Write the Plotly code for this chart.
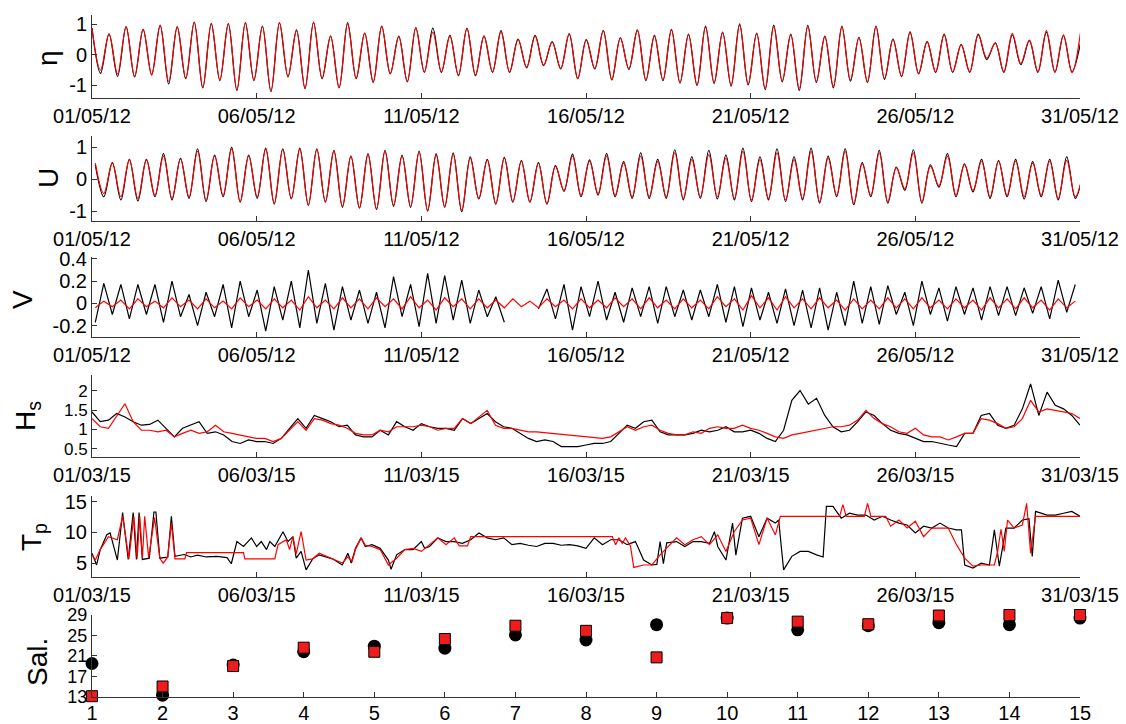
import numpy as np
import pandas as pd
import plotly.graph_objects as go

# ---------------- DATA ----------------
M2_PERIOD_DAYS = 0.5175          # spacing of successive high waters
BASE_2012 = pd.Timestamp("2012-05-01")
BASE_2015 = pd.Timestamp("2015-03-01")

# eta: high-water values (every M2 period from day 0) and low-water values (half period later)
eta_obs_high = [0.88,0.68,0.92,0.84,0.97,0.92,1.08,1.03,1.03,1.05,
                0.95,1.05,0.82,1.08,0.62,1.06,0.72,0.95,0.62,0.90,
                0.88,0.64,0.87,0.62,0.80,0.52,0.64,0.44,0.69,0.50,
                0.80,0.56,0.82,0.64,0.84,0.68,0.95,0.75,1.02,0.72,
                0.98,0.68,0.97,0.62,0.95,0.58,0.95,0.52,0.76,0.44,
                0.68,0.35,0.68,0.40,0.66,0.47,0.75,0.63,0.40]
eta_obs_low = [-0.60,-0.70,-0.72,-0.64,-0.95,-0.78,-1.08,-0.84,-1.16,-0.84,
               -1.20,-0.72,-1.10,-0.78,-1.08,-0.78,-0.90,-0.62,-0.88,-0.57,
               -0.57,-0.68,-0.68,-0.57,-0.57,-0.42,-0.35,-0.46,-0.78,-0.46,
               -0.82,-0.47,-0.84,-0.84,-0.92,-1.00,-0.93,-1.02,-0.98,-1.14,
               -0.88,-1.16,-0.90,-1.08,-0.86,-0.90,-0.80,-0.71,-0.62,-0.57,
               -0.57,-0.57,-0.15,-0.57,-0.32,-0.57,-0.57,-0.55]
eta_mod_high = [0.88,0.69,0.93,0.84,0.98,0.93,1.07,1.04,1.02,1.06,
                0.93,1.06,0.80,1.06,0.62,1.02,0.71,0.93,0.60,0.87,
                0.75,0.62,0.87,0.62,0.76,0.50,0.62,0.42,0.69,0.49,
                0.80,0.55,0.80,0.62,0.82,0.66,0.91,0.73,0.98,0.69,
                0.93,0.66,0.93,0.60,0.91,0.55,0.91,0.51,0.73,0.44,
                0.66,0.33,0.66,0.38,0.71,0.49,0.80,0.66,0.73]
eta_mod_low = [-0.50,-0.62,-0.70,-0.66,-0.87,-0.76,-1.06,-0.82,-1.15,-0.82,
               -1.18,-0.70,-1.09,-0.76,-1.06,-0.76,-0.87,-0.60,-0.87,-0.55,
               -0.55,-0.66,-0.66,-0.55,-0.55,-0.40,-0.33,-0.44,-0.77,-0.44,
               -0.80,-0.45,-0.82,-0.82,-0.90,-0.98,-0.90,-0.98,-0.95,-1.09,
               -0.85,-1.09,-0.87,-1.02,-0.82,-0.87,-0.77,-0.69,-0.60,-0.55,
               -0.55,-0.55,-0.10,-0.55,-0.28,-0.55,-0.55,-0.58]

# U: flood peaks and ebb troughs
u_obs_high = [0.45,0.52,0.62,0.62,0.80,0.65,0.95,0.75,1.00,0.75,
              0.97,0.95,0.97,0.95,0.90,0.72,0.80,0.90,0.75,0.88,
              0.80,0.82,0.70,0.62,0.68,0.58,0.52,0.42,0.78,0.60,
              0.80,0.55,0.82,0.62,0.92,0.70,0.90,0.75,0.97,0.70,
              0.95,0.70,0.97,0.72,0.95,0.52,0.90,0.38,0.92,0.45,
              0.80,0.48,0.62,0.58,0.62,0.55,0.62,0.70,0.30]
u_obs_low = [-0.55,-0.65,-0.68,-0.55,-0.65,-0.60,-0.70,-0.55,-0.72,-0.60,
             -0.78,-0.62,-0.82,-0.72,-0.88,-0.90,-0.95,-0.85,-0.88,-1.00,
             -0.88,-1.02,-0.62,-0.78,-0.72,-0.72,-0.78,-0.38,-0.55,-0.50,
             -0.55,-0.60,-0.60,-0.60,-0.65,-0.60,-0.62,-0.65,-0.70,-0.65,
             -0.70,-0.65,-0.75,-0.55,-0.80,-0.55,-0.75,-0.35,-0.75,-0.25,
             -0.55,-0.40,-0.60,-0.55,-0.62,-0.55,-0.65,-0.60]
u_mod_high = [0.50,0.50,0.60,0.60,0.72,0.63,0.87,0.72,0.95,0.72,
              0.93,0.93,0.93,0.93,0.87,0.72,0.77,0.87,0.72,0.84,
              0.75,0.77,0.66,0.60,0.66,0.56,0.50,0.40,0.72,0.56,
              0.72,0.50,0.72,0.55,0.82,0.61,0.77,0.66,0.87,0.61,
              0.82,0.61,0.87,0.66,0.87,0.48,0.82,0.35,0.82,0.40,
              0.72,0.45,0.56,0.56,0.56,0.50,0.56,0.59,0.30]
u_mod_low = [-0.45,-0.55,-0.60,-0.50,-0.60,-0.55,-0.65,-0.50,-0.70,-0.55,
             -0.75,-0.60,-0.80,-0.70,-0.85,-0.90,-0.92,-0.81,-0.85,-0.97,
             -0.85,-0.97,-0.60,-0.76,-0.70,-0.70,-0.76,-0.35,-0.50,-0.45,
             -0.50,-0.55,-0.55,-0.55,-0.60,-0.55,-0.55,-0.60,-0.65,-0.60,
             -0.65,-0.60,-0.70,-0.50,-0.76,-0.50,-0.70,-0.30,-0.70,-0.20,
             -0.50,-0.35,-0.55,-0.50,-0.55,-0.50,-0.60,-0.55]

# V: troughs (first) and crests (half period later); None = gap in record
v_obs_low = [-0.17,-0.10,-0.14,-0.10,-0.17,-0.12,-0.20,-0.12,-0.22,-0.12,
             -0.25,-0.15,-0.22,-0.18,-0.24,-0.15,-0.18,-0.22,-0.12,-0.21,
             -0.18,-0.15,-0.18,-0.12,-0.17,None,-0.05,-0.14,-0.24,-0.12,
             -0.15,-0.17,-0.12,-0.18,-0.12,-0.15,-0.12,-0.17,-0.21,-0.15,
             -0.18,-0.20,-0.22,-0.24,-0.20,-0.18,-0.19,-0.10,-0.20,-0.10,
             -0.16,-0.10,-0.15,-0.11,-0.11,-0.09,-0.14,-0.08]
v_obs_high = [0.18,0.17,0.17,0.17,0.20,0.08,0.10,0.17,0.20,0.12,
              0.15,0.20,0.30,0.18,0.15,0.12,0.10,0.24,0.17,0.27,
              0.25,0.21,0.12,0.06,None,None,0.13,0.17,0.15,0.20,
              0.10,0.14,0.15,0.15,0.12,0.12,0.17,0.15,0.14,0.10,
              0.13,0.12,0.14,0.10,0.20,0.15,0.16,0.10,0.20,0.14,
              0.15,0.14,0.15,0.15,0.14,0.15,0.21,0.17]
v_mod_low = [-0.04,-0.03,-0.05,-0.03,-0.04,-0.03,-0.05,-0.04,-0.05,-0.03,
             -0.05,-0.04,-0.06,-0.04,-0.05,-0.04,-0.05,-0.03,-0.05,-0.04,
             -0.06,-0.03,-0.05,-0.04,-0.04,-0.03,-0.04,-0.03,-0.05,-0.04,
             -0.04,-0.03,-0.05,-0.04,-0.05,-0.04,-0.05,-0.03,-0.06,-0.04,
             -0.06,-0.04,-0.05,-0.04,-0.06,-0.05,-0.05,-0.04,-0.05,-0.04,
             -0.05,-0.04,-0.06,-0.04,-0.05,-0.04,-0.06,-0.04]
v_mod_high = [0.02,0.03,0.04,0.02,0.05,0.03,0.04,0.02,0.05,0.03,
              0.04,0.03,0.06,0.03,0.05,0.04,0.05,0.04,0.06,0.03,
              0.05,0.04,0.04,0.03,0.04,0.02,0.04,0.03,0.04,0.03,
              0.05,0.04,0.05,0.03,0.04,0.03,0.06,0.04,0.07,0.05,
              0.06,0.04,0.05,0.03,0.04,0.03,0.05,0.04,0.05,0.03,
              0.04,0.03,0.05,0.04,0.05,0.03,0.04,0.02]

# Hs, 6-hourly values, March 2015
hs_step_days = 0.25
hs_obs = [1.45,1.20,1.24,1.41,1.32,1.20,1.11,1.13,1.24,1.03,
          0.81,1.03,1.11,1.20,0.90,0.94,0.86,0.69,0.64,0.73,
          0.69,0.69,0.64,0.77,1.03,1.28,1.03,1.36,1.28,1.20,
          1.07,1.11,0.86,0.81,0.81,0.98,0.86,1.20,1.07,0.98,
          1.15,1.07,1.03,1.03,0.98,1.28,1.15,1.28,1.41,1.20,
          1.07,1.03,0.90,0.77,0.69,0.73,0.69,0.56,0.56,0.56,
          0.60,0.64,0.64,0.69,0.90,1.11,1.03,1.20,1.24,0.94,
          0.86,0.86,0.86,0.90,0.98,0.94,0.98,1.07,0.94,0.94,
          0.98,0.90,0.77,0.69,0.98,1.75,2.00,1.65,1.80,1.36,
          1.07,0.94,0.98,1.20,1.45,1.36,1.15,0.98,0.90,0.86,
          0.77,0.69,0.69,0.64,0.60,0.56,0.90,0.90,1.36,1.41,
          1.11,1.03,1.11,1.53,2.17,1.36,1.96,1.62,1.53,1.36,
          1.11]
hs_mod = [1.28,1.07,1.03,1.36,1.66,1.20,0.98,0.98,0.94,0.98,
          0.81,0.90,0.98,0.90,0.94,1.11,0.94,0.90,0.86,0.81,
          0.77,0.77,0.69,0.77,0.98,1.20,0.98,1.28,1.24,1.15,
          1.11,1.03,0.90,0.86,0.86,0.98,0.94,1.07,1.07,1.07,
          1.11,1.07,0.98,1.03,1.03,1.28,1.15,1.32,1.49,1.11,
          1.03,1.03,0.98,0.94,0.94,0.92,0.90,0.87,0.86,0.84,
          0.81,0.79,0.77,0.81,0.94,1.07,0.98,1.07,1.11,0.98,
          0.90,0.86,0.86,0.94,0.90,1.03,1.07,1.03,1.03,1.11,
          1.03,0.98,0.90,0.81,0.77,0.86,0.90,0.94,0.98,1.03,
          1.07,1.07,1.11,1.24,1.49,1.28,1.15,1.07,0.94,0.90,
          1.03,0.86,0.81,0.81,0.73,0.81,0.90,0.90,1.28,1.24,
          1.15,1.03,1.07,1.28,1.75,1.45,1.53,1.49,1.45,1.41,
          1.28]

# Tp (day offset, value)
tp_obs_day = [0.0,0.14,0.25,0.45,0.55,0.77,0.93,1.1,1.25,1.35,
              1.43,1.53,1.74,1.88,1.94,2.06,2.3,2.41,2.52,2.8,
              3.0,3.2,3.47,3.8,4.1,4.23,4.4,4.6,4.84,5.0,
              5.14,5.3,5.4,5.55,5.8,5.95,6.1,6.2,6.35,6.5,
              6.7,6.9,7.3,7.6,7.77,7.87,8.0,8.17,8.3,8.5,
              8.75,9.0,9.08,9.25,9.5,9.75,10.0,10.1,10.25,10.5,
              10.75,11.0,11.25,11.5,11.75,12.0,12.25,12.5,12.75,13.0,
              13.25,13.5,13.75,14.0,14.25,14.5,14.75,15.0,15.25,15.5,
              15.75,16.0,16.25,16.5,16.75,17.0,17.15,17.25,17.35,17.45,
              17.75,18.0,18.25,18.5,18.75,18.9,19.0,19.25,19.45,19.55,
              19.75,
              20.0,20.25,20.5,20.75,20.85,21.0,21.25,21.5,21.75,22.0,
              22.2,22.3,22.5,22.75,23.0,23.25,23.5,23.75,24.0,24.25,
              24.5,24.75,25.0,25.25,25.5,25.75,26.0,26.25,26.4,26.5,
              26.75,27.0,27.25,27.4,27.55,27.75,28.0,28.25,28.45,28.55,
              28.65,29.0,29.25,29.5,29.75,30.0]
tp_obs = [6.6,4.7,7.2,9.6,9.9,5.5,13.2,5.6,13.2,5.6,
          13.2,5.6,5.8,13.3,13.3,5.8,6.0,12.6,6.1,6.4,
          6.0,6.3,6.0,6.1,5.9,4.9,8.5,7.7,9.1,7.7,
          8.5,7.2,8.5,7.7,10.1,8.5,9.3,5.8,6.9,3.9,
          5.7,6.35,5.7,4.7,6.6,5.0,7.4,9.1,7.7,8.0,
          7.4,5.5,4.0,6.35,7.2,7.2,8.5,7.4,7.7,9.1,
          8.5,8.5,8.2,8.8,9.9,9.1,8.8,9.1,8.0,8.2,
          7.9,7.7,8.2,8.2,7.9,8.0,7.8,7.4,9.1,8.0,
          8.8,8.8,8.0,8.5,5.5,4.7,4.8,8.5,4.9,8.3,
          8.5,7.7,8.5,8.5,8.2,10.1,7.7,5.5,11.5,6.3,
          12.3,
          12.6,9.3,12.3,11.5,12.0,3.9,6.1,6.9,6.9,6.35,
          6.0,14.2,14.2,12.3,13.1,12.8,12.8,12.0,12.6,12.0,
          11.5,11.2,9.9,11.0,10.7,11.5,10.7,10.4,10.4,4.7,
          4.2,5.0,4.7,10.4,4.5,10.7,10.7,12.0,12.2,6.1,
          13.4,12.8,12.8,13.1,13.4,12.6]
tp_mod_day = [0.0,0.1,0.25,0.5,0.77,0.93,1.12,1.27,1.37,1.45,
              1.53,1.6,1.72,1.9,2.06,2.16,2.3,2.41,2.52,2.82,
              2.87,4.6,4.64,5.55,5.65,5.9,6.0,6.1,6.2,6.35,
              6.5,6.7,6.9,7.3,7.6,7.77,7.9,8.0,8.17,8.3,
              8.5,
              8.75,9.0,9.25,9.5,9.75,10.0,10.25,10.5,10.75,11.0,
              11.15,11.4,11.5,15.8,15.9,16.0,16.1,16.2,16.35,16.45,
              16.75,17.0,17.25,17.5,17.75,18.0,18.25,18.5,18.75,19.0,
              19.25,19.5,19.75,
              20.0,20.25,20.5,20.75,20.9,22.7,22.8,22.9,23.45,23.55,
              23.65,24.1,24.25,24.5,24.75,25.0,25.25,25.5,26.0,26.25,
              26.5,26.75,27.0,27.4,27.5,27.6,27.7,27.8,28.0,28.25,
              28.38,28.5,28.65,30.0]
tp_mod = [6.35,5.5,7.2,9.3,8.8,12.6,5.7,12.6,5.7,12.6,
          5.8,12.6,5.9,12.4,5.8,5.0,6.0,11.5,5.7,5.7,
          6.7,6.7,5.7,5.7,8.0,8.8,7.2,9.3,6.5,10.1,
          5.5,5.7,6.6,5.7,5.0,6.0,5.3,7.2,9.1,7.9,
          7.7,
          7.2,4.7,5.8,7.2,7.4,6.9,8.0,9.1,8.0,9.1,
          7.8,7.8,9.3,9.3,8.0,9.1,8.2,9.1,7.8,4.3,
          4.7,4.7,6.35,7.7,9.1,8.0,8.8,9.3,8.0,9.6,
          6.9,10.1,12.0,
          12.3,8.0,12.3,9.6,12.6,12.6,14.5,12.6,12.6,14.7,
          12.6,12.6,11.0,12.0,10.7,11.8,9.3,10.7,10.7,8.0,
          5.8,4.5,4.7,4.7,6.9,10.5,6.9,12.0,10.7,11.2,
          14.7,6.6,12.6,12.6]

# Salinity at stations
sal_station = [1,2,3,4,5,6,7,8,9,10,11,12,13,14,15]
sal_obs = [19.5,13.3,19.2,21.8,22.9,22.5,25.1,24.1,27.1,28.4,26.1,26.9,27.5,27.1,28.4]
sal_mod = [13.1,15.0,19.0,22.6,21.8,24.3,26.9,25.9,20.7,28.4,27.7,27.2,28.9,29.0,29.0]

# ---------------- HELPERS ----------------
def tide_points(first, second, t0, base):
    P = M2_PERIOD_DAYS
    t = [t0 + n * P for n in range(len(first))] + [t0 + (n + 0.5) * P for n in range(len(second))]
    v = list(first) + list(second)
    idx = np.argsort(t, kind="stable")
    days = np.array(t)[idx]
    vals = [v[i] for i in idx]
    return base + pd.to_timedelta(days, unit="D"), vals

def to_time(base, days):
    return base + pd.to_timedelta(np.asarray(days, dtype=float), unit="D")

BLACK = "#000000"
RED = "#ff0000"
FONT = "Arial, Liberation Sans, sans-serif"
W, H = 1126, 724
X0, X1 = 92, 1080
PANELS = [(15, 98.3), (136, 220.7), (256.7, 336.7), (375, 456.7), (496, 577.3), (615, 696.7)]

fig = go.Figure()

def add_line(x, y, color, k, shape="linear", width=1.2):
    fig.add_trace(go.Scatter(x=x, y=y, mode="lines", line=dict(color=color, width=width, shape=shape),
                             xaxis="x" if k == 1 else f"x{k}", yaxis="y" if k == 1 else f"y{k}",
                             showlegend=False, hoverinfo="skip", connectgaps=False))

x, y = tide_points(eta_obs_high, eta_obs_low, 0.0, BASE_2012); add_line(x, y, BLACK, 1, "spline")
x, y = tide_points(eta_mod_high, eta_mod_low, 0.0, BASE_2012); add_line(x, y, RED, 1, "spline")
x, y = tide_points(u_obs_high, u_obs_low, 0.1, BASE_2012); add_line(x, y, BLACK, 2, "spline")
x, y = tide_points(u_mod_high, u_mod_low, 0.1, BASE_2012); add_line(x, y, RED, 2, "spline")
x, y = tide_points(v_obs_low, v_obs_high, 0.1, BASE_2012); add_line(x, y, BLACK, 3, "linear")
x, y = tide_points(v_mod_low, v_mod_high, 0.1, BASE_2012); add_line(x, y, RED, 3, "linear")

hs_days = np.arange(len(hs_obs)) * hs_step_days
add_line(to_time(BASE_2015, hs_days), hs_obs, BLACK, 4)
add_line(to_time(BASE_2015, hs_days), hs_mod, RED, 4)
add_line(to_time(BASE_2015, tp_obs_day), tp_obs, BLACK, 5)
add_line(to_time(BASE_2015, tp_mod_day), tp_mod, RED, 5)

fig.add_trace(go.Scatter(x=sal_station, y=sal_obs, mode="markers", xaxis="x6", yaxis="y6",
                         marker=dict(symbol="circle", size=13, color=BLACK, line=dict(width=0)),
                         showlegend=False, cliponaxis=False))
fig.add_trace(go.Scatter(x=sal_station, y=sal_mod, mode="markers", xaxis="x6", yaxis="y6",
                         marker=dict(symbol="square", size=11, color="#ee1c1c", line=dict(width=1, color=BLACK)),
                         showlegend=False, cliponaxis=False))

yranges = [[-1.42, 1.31], [-1.3, 1.35], [-0.3, 0.42], [0.3, 2.4], [2.7, 15.9], [13, 29]]
yticks = [[-1, 0, 1], [-1, 0, 1], [-0.2, 0, 0.2, 0.4], [0.5, 1, 1.5, 2], [5, 10, 15], [13, 17, 21, 25, 29]]
ytext = [["-1", "0", "1"], ["-1", "0", "1"], ["-0.2", "0", "0.2", "0.4"], ["0.5", "1", "1.5", "2"],
         ["5", "10", "15"], ["13", "17", "21", "25", "29"]]
ytick_size = [20, 20, 20, 17, 20, 18]

axis_common = dict(showline=True, linecolor="#333333", linewidth=1, ticks="inside", ticklen=5,
                   tickcolor="#333333", showgrid=False, zeroline=False, automargin=False)

layout = dict(width=W, height=H, margin=dict(l=0, r=0, t=0, b=0), plot_bgcolor="white",
              paper_bgcolor="white", showlegend=False)
for k, (top, bot) in enumerate(PANELS, start=1):
    xs = "xaxis" if k == 1 else f"xaxis{k}"
    ys = "yaxis" if k == 1 else f"yaxis{k}"
    xa = "x" if k == 1 else f"x{k}"
    ya = "y" if k == 1 else f"y{k}"
    dom_y = [1 - bot / H, 1 - top / H]
    xcfg = dict(axis_common, domain=[X0 / W, X1 / W], anchor=ya,
                tickfont=dict(family=FONT, size=20, color="black"))
    if k <= 3:
        xcfg.update(type="date", range=["2012-05-01", "2012-05-31"], tick0="2012-05-01",
                    dtick=5 * 86400000, tickformat="%d/%m/%y")
    elif k <= 5:
        xcfg.update(type="date", range=["2015-03-01", "2015-03-31"], tick0="2015-03-01",
                    dtick=5 * 86400000, tickformat="%d/%m/%y")
    else:
        xcfg.update(range=[1, 15], tickvals=sal_station, ticktext=[str(s) for s in sal_station],
                    ticklabelstandoff=-2)
    ycfg = dict(axis_common, domain=dom_y, anchor=xa, range=yranges[k - 1],
                tickvals=yticks[k - 1], ticktext=ytext[k - 1],
                tickfont=dict(family=FONT, size=ytick_size[k - 1], color="black"))
    layout[xs] = xcfg
    layout[ys] = ycfg

titles = ["η", "U", "V", "H<sub>s</sub>", "T<sub>p</sub>", "Sal."]
title_x = [48, 48, 23, 27, 33, 37]
title_y = [58, 178, 300, 416, 537, 662]
layout["annotations"] = [dict(text=t, x=tx / W, y=1 - ty / H, xref="paper", yref="paper",
                              textangle=-90, showarrow=False, xanchor="center", yanchor="middle",
                              font=dict(family=FONT, size=28, color="black"))
                         for t, tx, ty in zip(titles, title_x, title_y)]

fig.update_layout(**layout)
fig.write_html("out.html")
